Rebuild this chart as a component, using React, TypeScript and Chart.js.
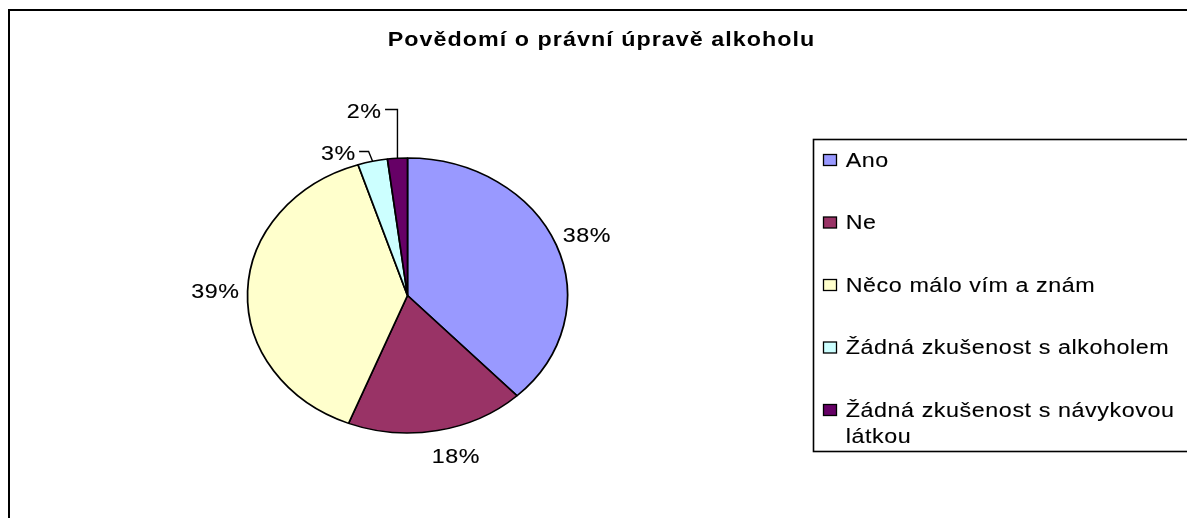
import React, { useEffect, useRef } from "react";
import { Chart, registerables } from "chart.js";

Chart.register(...registerables);

// ---- data ----
const chartTitle = "Povědomí o právní úpravě alkoholu";
const categories = [
  "Ano",
  "Ne",
  "Něco málo vím a znám",
  "Žádná zkušenost s alkoholem",
  "Žádná zkušenost s návykovou látkou",
];
const values = [38, 18, 39, 3, 2];
const sliceColors = ["#9999FF", "#993366", "#FFFFCC", "#CCFFFF", "#660066"];

// ---- layout / style ----
const W = 1187;
const H = 518;
const STRETCH = 1.1636; // horizontal stretch of the whole picture
const PIE_CX = 407.5;
const PIE_CY = 295.5;
const PIE_R = 137.5;
const FONT_FAMILY = '"Liberation Sans", Arial, sans-serif';
const LABEL_FONT = `20px ${FONT_FAMILY}`;
const TITLE_FONT = `bold 20px ${FONT_FAMILY}`;
const LABEL_SPACING = 0.5;
const TITLE_SPACING = 0.9;
const LABEL_GAP = 28;
const labelNudges = [
  [0, 0],
  [12, -2.5],
  [0, 0],
  [0, 0],
  [0, 0],
];
const leaderLabels: (null | { dx: number; dy: number; elbowDx: number })[] = [
  null,
  null,
  null,
  { dx: -34.6, dy: -8.3, elbowDx: -4 },
  { dx: -33.5, dy: -47.3, elbowDx: 0 },
];

function drawText(
  ctx: CanvasRenderingContext2D,
  text: string,
  x: number,
  y: number,
  align: "left" | "center" | "right",
  font: string,
  spacing: number,
  weight = 0.12
) {
  ctx.save();
  ctx.font = font;
  (ctx as any).letterSpacing = spacing + "px";
  ctx.fillStyle = "#000";
  ctx.strokeStyle = "#000";
  ctx.lineWidth = weight;
  ctx.lineJoin = "round";
  ctx.textBaseline = "alphabetic";
  ctx.textAlign = "left";
  const w = (ctx.measureText(text).width - spacing) * STRETCH;
  let x0 = x;
  if (align === "center") x0 = x - w / 2;
  else if (align === "right") x0 = x - w;
  ctx.translate(x0, y);
  ctx.scale(STRETCH, 1);
  ctx.fillText(text, 0, 0);
  if (weight > 0) ctx.strokeText(text, 0, 0);
  ctx.restore();
  return w;
}

function measure(ctx: CanvasRenderingContext2D, text: string, font: string, spacing: number) {
  ctx.save();
  ctx.font = font;
  (ctx as any).letterSpacing = spacing + "px";
  const w = (ctx.measureText(text).width - spacing) * STRETCH;
  ctx.restore();
  return w;
}

function wrapWords(ctx: CanvasRenderingContext2D, text: string, maxW: number) {
  const words = text.split(" ");
  const lines: string[] = [];
  let cur = "";
  for (const w of words) {
    const test = cur ? cur + " " + w : w;
    if (cur && measure(ctx, test, LABEL_FONT, LABEL_SPACING) > maxW) {
      lines.push(cur);
      cur = w;
    } else cur = test;
  }
  if (cur) lines.push(cur);
  return lines;
}

const ellipsePlugin = {
  id: "ellipse",
  beforeDatasetsDraw(chart: any) {
    const ctx = chart.ctx;
    const el = chart.getDatasetMeta(0).data[0];
    ctx.save();
    ctx.translate(el.x, el.y);
    ctx.scale(STRETCH, 1);
    ctx.translate(-el.x, -el.y);
  },
  afterDatasetsDraw(chart: any) {
    chart.ctx.restore();
  },
};

const decorPlugin = {
  id: "decor",
  afterDraw(chart: any) {
    const ctx: CanvasRenderingContext2D = chart.ctx;

    // outer frame
    ctx.save();
    ctx.strokeStyle = "#000";
    ctx.lineWidth = 2;
    ctx.strokeRect(9, 10, 1200, 600);
    ctx.restore();

    // title
    drawText(ctx, chartTitle, 601, 46, "center", TITLE_FONT, TITLE_SPACING, 0);

    // percentage labels
    const total = values.reduce((a, b) => a + b, 0);
    const meta = chart.getDatasetMeta(0);
    meta.data.forEach((arc: any, i: number) => {
      const p = arc.getProps(["x", "y", "startAngle", "endAngle", "outerRadius"], true);
      const mid = (p.startAngle + p.endAngle) / 2;
      const text = Math.round((values[i] / total) * 100) + "%";
      const tw = measure(ctx, text, LABEL_FONT, LABEL_SPACING);
      const leader = leaderLabels[i];
      let cx: number, cy: number;
      if (leader) {
        const ex = p.x + Math.cos(mid) * p.outerRadius * STRETCH;
        const ey = p.y + Math.sin(mid) * p.outerRadius;
        cx = ex + leader.dx;
        cy = ey + leader.dy;
        const ly = cy - 1.5;
        ctx.save();
        ctx.strokeStyle = "#000";
        ctx.lineWidth = 1.4;
        ctx.beginPath();
        ctx.moveTo(ex, ey);
        ctx.lineTo(ex + leader.elbowDx, ly);
        ctx.lineTo(cx + tw / 2 + 4, ly);
        ctx.stroke();
        ctx.restore();
      } else {
        const rr = p.outerRadius + LABEL_GAP;
        cx = p.x + Math.cos(mid) * rr * STRETCH + labelNudges[i][0];
        cy = p.y + Math.sin(mid) * rr + labelNudges[i][1];
      }
      drawText(ctx, text, cx, cy + 7.2, "center", LABEL_FONT, LABEL_SPACING);
    });

    // legend
    ctx.save();
    ctx.strokeStyle = "#000";
    ctx.lineWidth = 1.6;
    ctx.strokeRect(813.5, 139.5, 500, 312);
    ctx.restore();
    const textX = 845.7;
    const maxW = 340;
    categories.forEach((cat, i) => {
      const base = 166.5 + i * 62.5;
      ctx.save();
      ctx.fillStyle = sliceColors[i];
      ctx.fillRect(823.5, base - 12, 13, 11);
      ctx.strokeStyle = "#000";
      ctx.lineWidth = 1.3;
      ctx.strokeRect(823.5, base - 12, 13, 11);
      ctx.restore();
      const lines = wrapWords(ctx, cat, maxW);
      lines.forEach((ln, j) => {
        drawText(ctx, ln, textX, base + j * 26.7, "left", LABEL_FONT, LABEL_SPACING);
      });
    });
  },
};

export default function App() {
  const ref = useRef<HTMLCanvasElement>(null);
  useEffect(() => {
    if (!ref.current) return;
    const chart = new Chart(ref.current, {
      type: "pie",
      data: {
        labels: categories,
        datasets: [
          {
            data: values,
            backgroundColor: sliceColors,
            borderColor: "#000",
            borderWidth: 1.5,
          },
        ],
      },
      options: {
        responsive: false,
        animation: false,
        devicePixelRatio: 1,
        radius: PIE_R,
        layout: {
          padding: {
            left: 0,
            right: W - 2 * PIE_CX,
            top: 2 * PIE_CY - H,
            bottom: 0,
          },
        },
        plugins: {
          legend: { display: false },
          title: { display: false },
          tooltip: { enabled: false },
        },
      } as any,
      plugins: [ellipsePlugin, decorPlugin],
    });
    return () => chart.destroy();
  }, []);
  return (
    <div
      style={{
        position: "fixed",
        left: 0,
        top: 0,
        width: W,
        height: H,
        overflow: "hidden",
        background: "#fff",
      }}
    >
      <canvas
        ref={ref}
        width={W}
        height={H}
        style={{ display: "block", width: W, height: H }}
      />
    </div>
  );
}
